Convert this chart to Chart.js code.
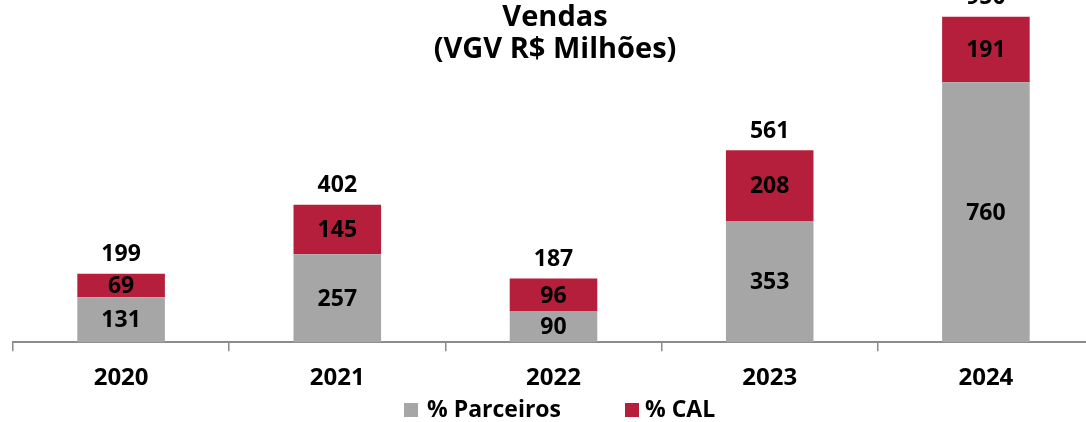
<!DOCTYPE html>
<html>
<head>
<meta charset="utf-8">
<script src="https://cdn.jsdelivr.net/npm/chart.js@4/dist/chart.umd.min.js"></script>
<style>
  html, body { margin: 0; padding: 0; background: #fff; overflow: hidden; }
  #wrap { width: 1100px; height: 422px; }
</style>
</head>
<body>
<div id="wrap"><canvas id="myChart" width="1100" height="422"></canvas></div>
<script>
// data
const years = ['2020', '2021', '2022', '2023', '2024'];
const parceiros = [131, 257, 90, 353, 760];
const cal = [69, 145, 96, 208, 191];
const totals = [199, 402, 187, 561, 950];

const FONT = '"Open Sans", Lato, sans-serif';
const GRAY = '#A6A6A6';
const RED = '#B51F3C';

// draws values inside the bars, totals above, the title and the legend
const labelsPlugin = {
    id: 'labelsPlugin',
    afterDraw(chart) {
        const ctx = chart.ctx;
        ctx.save();
        ctx.fillStyle = '#000';
        ctx.textAlign = 'center';
        ctx.textBaseline = 'middle';
        ctx.font = 'bold 23px ' + FONT;

        chart.data.datasets.forEach((ds, i) => {
            const meta = chart.getDatasetMeta(i);
            meta.data.forEach((bar, j) => {
                const mid = (bar.y + bar.base) / 2;
                ctx.fillText(String(ds.data[j]), bar.x, mid + 1);
            });
        });

        // totals above the stack
        const top = chart.getDatasetMeta(1);
        top.data.forEach((bar, j) => {
            ctx.fillText(String(totals[j]), bar.x, bar.y - 19);
        });

        // title
        ctx.font = 'bold 29px ' + FONT;
        ctx.fillText('Vendas', 555, 18);
        ctx.fillText('(VGV R$ Milhões)', 555, 50);

        // legend
        ctx.textAlign = 'left';
        ctx.font = 'bold 23px ' + FONT;
        ctx.fillStyle = GRAY;
        ctx.fillRect(404, 403, 14, 14);
        ctx.fillStyle = RED;
        ctx.fillRect(625, 403, 14, 14);
        ctx.fillStyle = '#000';
        ctx.fillText('% Parceiros', 427, 410);
        ctx.fillText('% CAL', 645, 410);
        ctx.restore();
    }
};

const ctx = document.getElementById('myChart').getContext('2d');
const chart = new Chart(ctx, {
    type: 'bar',
    data: {
        labels: years,
        datasets: [
            {
                label: '% Parceiros',
                data: parceiros,
                backgroundColor: GRAY,
                categoryPercentage: 1,
                barPercentage: 0.405,
            },
            {
                label: '% CAL',
                data: cal,
                backgroundColor: RED,
                categoryPercentage: 1,
                barPercentage: 0.405,
            },
        ],
    },
    options: {
        responsive: false,
        animation: false,
        devicePixelRatio: 1,
        layout: { padding: { left: 13, right: 6, top: 0, bottom: 16 } },
        plugins: {
            legend: { display: false },
            tooltip: { enabled: false },
        },
        scales: {
            x: {
                stacked: true,
                grid: {
                    display: true,
                    drawOnChartArea: false,
                    drawTicks: true,
                    tickLength: 9,
                    color: '#8c8c8c',
                    lineWidth: 1.5,
                    offset: true,
                },
                border: { display: true, color: '#8c8c8c', width: 2 },
                ticks: {
                    color: '#000',
                    padding: 13,
                    font: { family: FONT, size: 24, weight: 'bold' },
                },
            },
            y: {
                stacked: true,
                display: false,
                min: 0,
                max: 1000,
            },
        },
    },
    plugins: [labelsPlugin],
});
</script>
</body>
</html>
